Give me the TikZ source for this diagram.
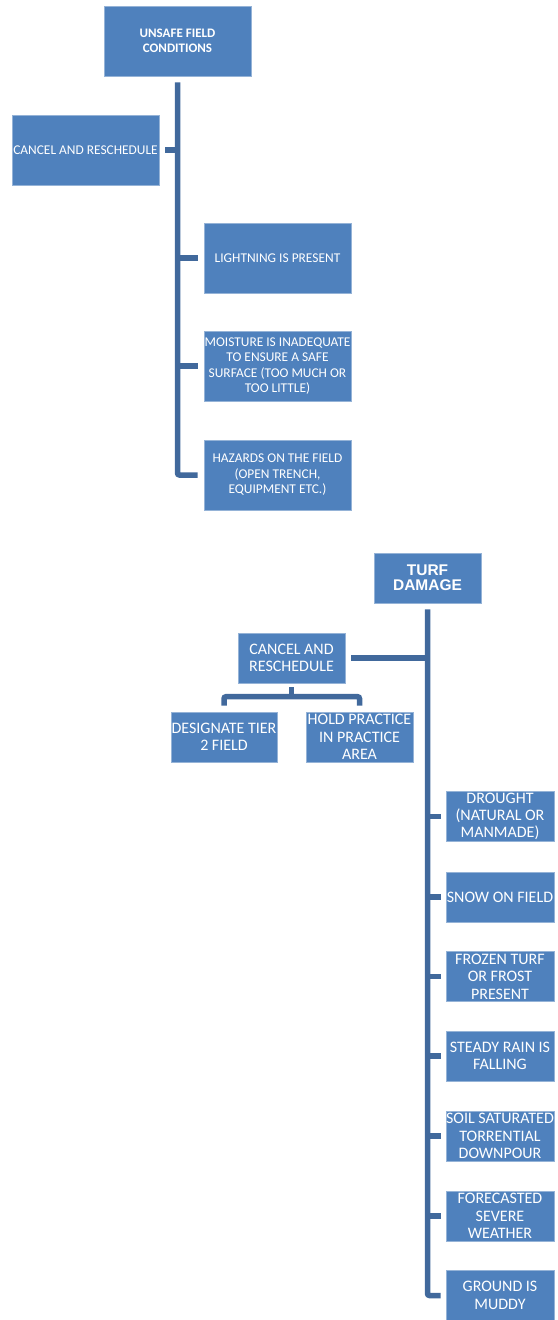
\documentclass[tikz,border=0pt]{standalone}
\usepackage{fontspec}
\setmainfont{Carlito}
\newfontfamily\arialfont{Liberation Sans}
\definecolor{boxblue}{HTML}{4F81BD}
\definecolor{lineblue}{HTML}{41699C}
\begin{document}
\begin{tikzpicture}[x=1pt,y=-1pt,
  bx/.style={fill=boxblue,draw=boxblue!60!white,line width=0.6pt,text=white,inner sep=0pt,align=center},
  topbox/.style={bx,minimum width=147pt,minimum height=70pt,font=\fontsize{13.4}{15.5}\selectfont},
  lowbox/.style={bx,minimum width=107pt,minimum height=50pt,font=\fontsize{16}{17.4}\selectfont},
  conn/.style={draw=lineblue,line width=5.5pt,rounded corners=2pt}]
\useasboundingbox (0,0) rectangle (557,1320);

% upper chart
\node[topbox,font=\bfseries\fontsize{13}{15}\selectfont] (unsafe) at (177.5,41) {UNSAFE FIELD\\CONDITIONS};
\node[topbox] (cancel1) at (85.5,150) {CANCEL AND RESCHEDULE};
\node[topbox] (light) at (277.5,258) {LIGHTNING IS PRESENT};
\node[topbox] (moist) at (277.5,366) {MOISTURE IS INADEQUATE\\TO ENSURE A SAFE\\SURFACE (TOO MUCH OR\\TOO LITTLE)};
\node[topbox] (hazard) at (277.5,475) {HAZARDS ON THE FIELD\\(OPEN TRENCH,\\EQUIPMENT ETC.)};

\draw[conn] ([yshift=-6pt]unsafe.south) -- (unsafe.south |- hazard.west) -- ([xshift=-6pt]hazard.west);
\draw[conn] ([xshift=6pt]cancel1.east) -- (cancel1.east -| unsafe.south);
\draw[conn] ([xshift=-6pt]light.west) -- (light.west -| unsafe.south);
\draw[conn] ([xshift=-6pt]moist.west) -- (moist.west -| unsafe.south);

% lower chart
\node[lowbox,font=\arialfont\bfseries\fontsize{15.5}{15}\selectfont] (turf) at (427.5,578) {TURF\\DAMAGE};
\node[lowbox] (cancel2) at (291.5,658) {CANCEL AND\\RESCHEDULE};
\node[lowbox,minimum width=106pt] (tier) at (224,737) {DESIGNATE TIER\\2 FIELD};
\node[lowbox] (hold) at (359.5,737) {HOLD PRACTICE\\IN PRACTICE\\AREA};

\node[lowbox,minimum width=108pt] (drought) at (500,816.5) {DROUGHT\\(NATURAL OR\\MANMADE)};
\node[lowbox,minimum width=108pt] (snow) at (500,897) {SNOW ON FIELD};
\node[lowbox,minimum width=108pt] (frozen) at (500,976.5) {FROZEN TURF\\OR FROST\\PRESENT};
\node[lowbox,minimum width=108pt] (rain) at (500,1056) {STEADY RAIN IS\\FALLING};
\node[lowbox,minimum width=108pt] (soil) at (500,1136) {SOIL SATURATED\\TORRENTIAL\\DOWNPOUR};
\node[lowbox,minimum width=108pt] (forecast) at (500,1216) {FORECASTED\\SEVERE\\WEATHER};
\node[lowbox,minimum width=108pt] (ground) at (500,1295.5) {GROUND IS\\MUDDY};

\draw[conn] ([yshift=-6pt]turf.south) -- (turf.south |- ground.west) -- ([xshift=-5pt]ground.west);
\draw[conn] ([xshift=6pt]cancel2.east) -- (cancel2.east -| turf.south);
\foreach \n in {drought,snow,frozen,rain,soil,forecast}
  \draw[conn] ([xshift=-5pt]\n.west) -- (\n.west -| turf.south);

\draw[conn] ([yshift=-4pt]cancel2.south) -- ([yshift=-13pt]cancel2.south);
\draw[conn] ([yshift=6pt]tier.north) -- ([yshift=15pt]tier.north) -- ([yshift=15pt]hold.north) -- ([yshift=6pt]hold.north);
\end{tikzpicture}
\end{document}
